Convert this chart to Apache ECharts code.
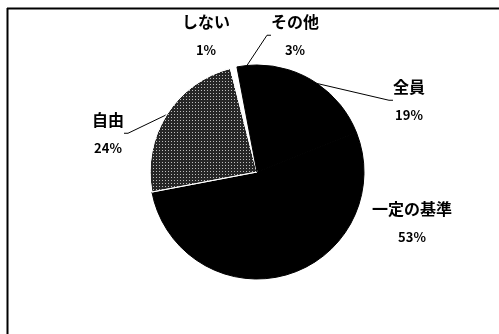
<!DOCTYPE html>
<html>
<head>
<meta charset="utf-8">
<script src="https://cdn.jsdelivr.net/npm/echarts@6/dist/echarts.min.js"></script>
<style>html,body{margin:0;padding:0;background:#fff}#c{width:499px;height:334px}</style>
</head>
<body>
<div id="c"></div>
<script>
// data
const categories = ['全員', '一定の基準', '自由', 'しない', 'その他'];
const values = [19, 53, 24, 1, 3];

// style / layout (not data)
const sliceColors = ['#000', '#000', '#262626', '#fff', '#000'];
const borderColors = ['#000', '#000', '#fff', '#fff', '#000'];
const labelPos = [[409, 101], [412, 223], [108, 134], [206, 36], [295, 36]];
const showLine = [true, false, true, false, true];

const chart = echarts.init(document.getElementById('c'), null, {renderer: 'canvas'});
const fam = '"Noto Sans CJK JP", "Noto Sans", sans-serif';

chart.setOption({
  animation: false,
  backgroundColor: '#fff',
  graphic: [
    {type: 'line', shape: {x1: 7, y1: 8.5, x2: 499, y2: 8.5}, style: {stroke: '#000', lineWidth: 2}},
    {type: 'line', shape: {x1: 7.5, y1: 8, x2: 7.5, y2: 334}, style: {stroke: '#000', lineWidth: 2}}
  ],
  series: [{
    type: 'pie',
    center: [257, 172],
    radius: 107,
    startAngle: 90,
    clockwise: true,
    avoidLabelOverlap: false,
    label: {
      show: true,
      formatter: '{n|{b}}\n{p|{d}%}',
      color: '#000',
      align: 'center',
      rich: {
        n: {fontFamily: fam, fontSize: 16, fontWeight: 'bold', color: '#000', lineHeight: 29, align: 'center'},
        p: {fontFamily: fam, fontSize: 13, fontWeight: 'bold', color: '#000', lineHeight: 29, align: 'center'}
      }
    },
    labelLine: {show: true, length: 10, length2: 4, lineStyle: {color: '#000', width: 1}},
    labelLayout: function (p) {
      const pos = labelPos[p.dataIndex];
      return {x: pos[0], y: pos[1], align: 'center', verticalAlign: 'middle'};
    },
    emphasis: {disabled: true},
    data: categories.map((c, i) => ({
      name: c,
      value: values[i],
      itemStyle: Object.assign({
        color: sliceColors[i],
        borderColor: borderColors[i],
        borderWidth: 1
      }, i === 2 ? {
        decal: {symbol: 'rect', symbolSize: 1, dashArrayX: [1, 2], dashArrayY: [1, 2], color: 'rgba(255,255,255,0.7)', rotation: 0}
      } : {}),
      labelLine: {show: showLine[i]}
    }))
  }]
});
</script>
</body>
</html>
